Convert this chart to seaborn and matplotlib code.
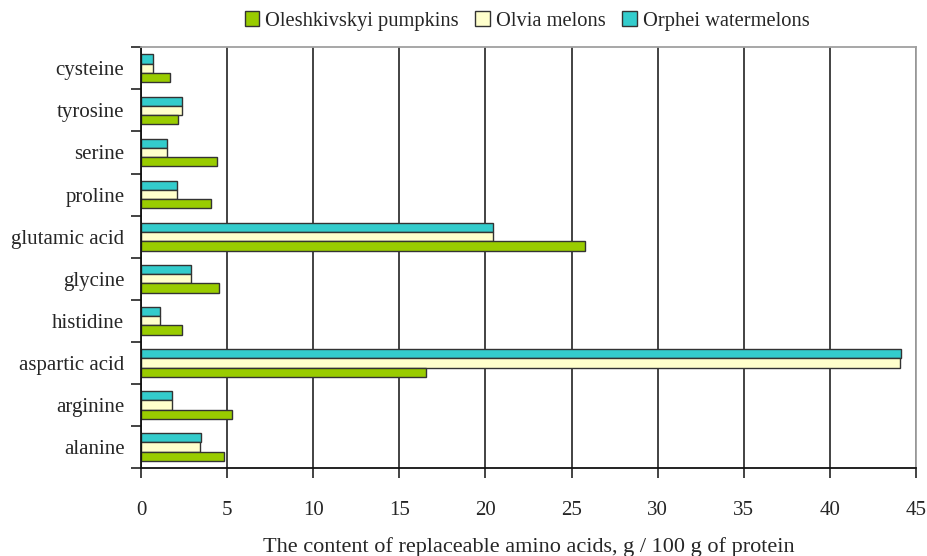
import numpy as np
import pandas as pd
import seaborn as sns
import matplotlib.pyplot as plt
from matplotlib.patches import Patch

sns.set_theme(style="white")
plt.rcParams["font.family"] = ["Liberation Serif", "DejaVu Serif"]

amino_acids = ["cysteine", "tyrosine", "serine", "proline", "glutamic acid",
               "glycine", "histidine", "aspartic acid", "arginine", "alanine"]
pumpkins = [1.68, 2.13, 4.40, 4.07, 25.8, 4.50, 2.36, 16.55, 5.27, 4.80]
melons = [0.72, 2.36, 1.51, 2.09, 20.42, 2.92, 1.12, 44.1, 1.78, 3.41]
watermelons = [0.72, 2.36, 1.51, 2.09, 20.42, 2.92, 1.12, 44.16, 1.78, 3.49]

series = ["Oleshkivskyi pumpkins", "Olvia melons", "Orphei watermelons"]
colors = {"Oleshkivskyi pumpkins": "#99CC00",
          "Olvia melons": "#FFFFCC",
          "Orphei watermelons": "#33CCCC"}

df = pd.DataFrame({
    "acid": amino_acids * 3,
    "value": pumpkins + melons + watermelons,
    "series": np.repeat(series, len(amino_acids)),
})

fig, ax = plt.subplots(figsize=(9.28, 5.56), dpi=100)
fig.subplots_adjust(left=0.152, right=0.987, top=0.915, bottom=0.158)

# watermelons drawn on top within each group
sns.barplot(data=df, x="value", y="acid", hue="series", order=amino_acids,
            hue_order=series[::-1], palette=colors, saturation=1, orient="h",
            width=0.66, edgecolor="#333333", linewidth=1.0, ax=ax, legend=False)

ax.set_xlim(0, 45)
ax.set_xticks(np.arange(0, 46, 5))
ax.set_ylim(len(amino_acids) - 0.5, -0.5)
ax.set_axisbelow(True)
ax.xaxis.grid(True, color="#222222", linewidth=1.2)
ax.yaxis.grid(False)

ax.set_yticks(np.arange(len(amino_acids)))
ax.set_yticklabels(amino_acids)
ax.set_yticks(np.arange(-0.5, len(amino_acids)), minor=True)
ax.tick_params(axis="y", which="major", length=0, pad=12, labelsize=15)
ax.tick_params(axis="y", which="minor", length=7, width=1.2, color="#222222",
               direction="out", left=True)
ax.tick_params(axis="x", length=7, width=1.2, color="#222222", direction="out",
               bottom=True, pad=17, labelsize=15)

for side in ["left", "bottom"]:
    ax.spines[side].set_color("#111111")
    ax.spines[side].set_linewidth(1.3)
for side in ["top", "right"]:
    ax.spines[side].set_visible(True)
    ax.spines[side].set_color("#a0a0a0")
    ax.spines[side].set_linewidth(1.3)

ax.set_ylabel("")
ax.set_xlabel("The content of replaceable amino acids, g / 100 g of protein",
              fontsize=16, labelpad=12)

handles = [Patch(facecolor=colors[s], edgecolor="#333333", linewidth=1.0) for s in series]
fig.legend(handles, series, loc="center", bbox_to_anchor=(0.568, 0.962), ncol=3,
           frameon=False, fontsize=14.8, handlelength=0.7, handleheight=0.7,
           handletextpad=0.3, columnspacing=0.8)

fig.savefig("out.png", dpi=100)
